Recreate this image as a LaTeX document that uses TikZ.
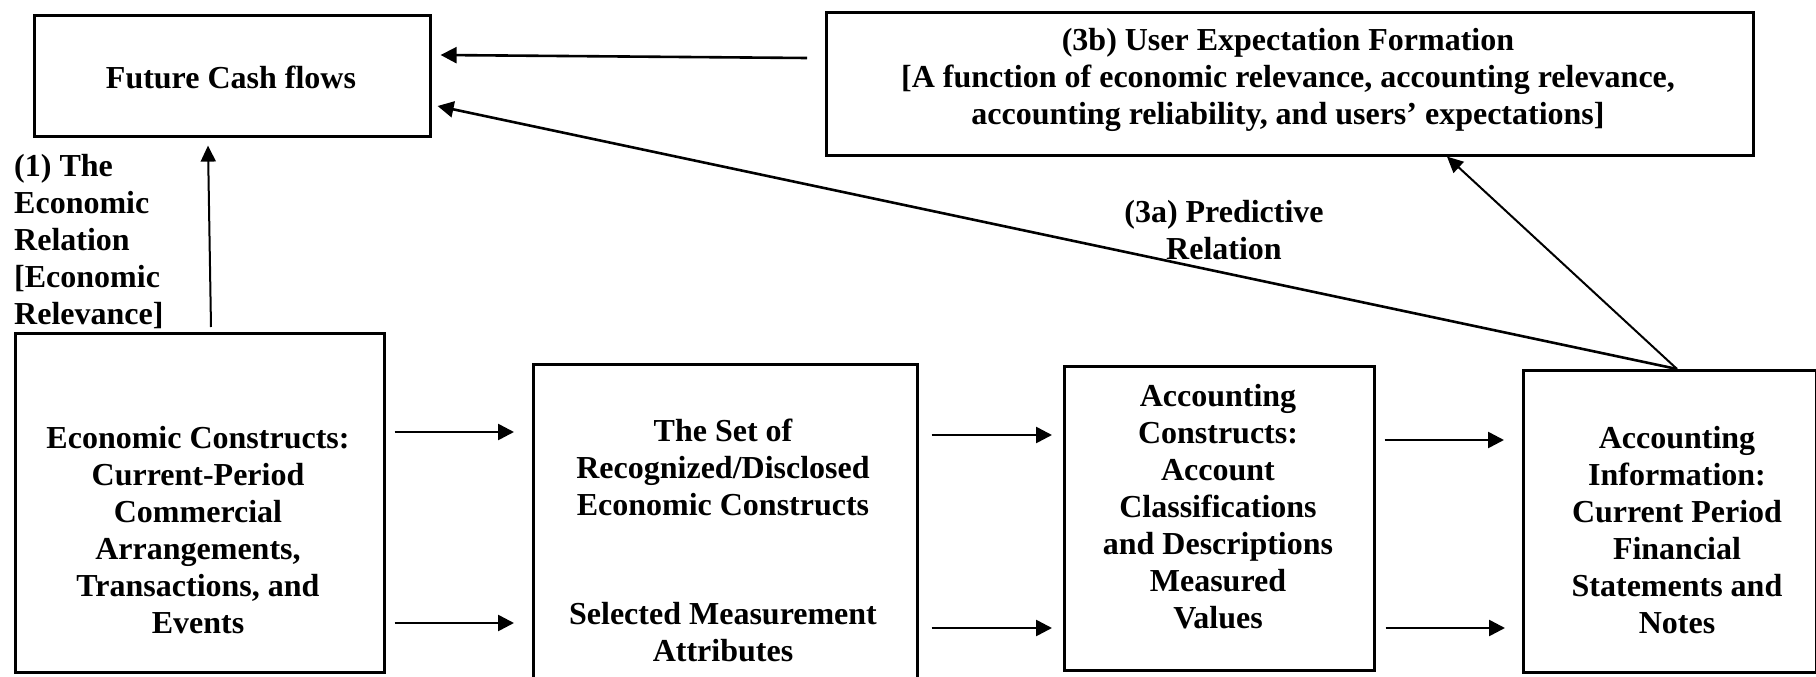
\documentclass[tikz,border=0pt]{standalone}
\usepackage{fontspec}
\setmainfont{Liberation Serif}
\usetikzlibrary{arrows.meta,calc}
\begin{document}
\begin{tikzpicture}[x=1pt,y=-1pt,
  box/.style={draw, line width=2.6pt, inner sep=0pt, anchor=north west},
  txt/.style={font=\bfseries\fontsize{32}{37}\selectfont, align=center, inner sep=0pt},
  lbl/.style={font=\bfseries\fontsize{32}{37}\selectfont, align=left, inner sep=0pt},
  arr/.style={-{Triangle[length=16pt,width=16pt]}, line width=2.6pt},
  thinarr/.style={-{Triangle[length=16pt,width=15pt]}, line width=2pt}]
\clip (0,0) rectangle (1816,677);
% boxes
\node[box, minimum width=396pt, minimum height=121pt] (fcf) at (33,14) {};
\node[box, minimum width=927pt, minimum height=143pt] (b3) at (825,11) {};
\node[box, minimum width=369pt, minimum height=339pt] (econ) at (14,332) {};
\node[box, minimum width=384pt, minimum height=320pt] (set) at (532,363) {};
\node[box, minimum width=310pt, minimum height=304pt] (ac) at (1063,365) {};
\node[box, minimum width=293pt, minimum height=302pt] (ai) at (1522,369) {};
% texts
\node[txt] (tfcf) at (231,77) {Future Cash flows};
\node[txt] (tb3) at (1288,80) {(3b) User Expectation Formation\\{[}A function of economic relevance, accounting relevance,\\accounting reliability, and users’ expectations{]}};
\node[txt] (tecon) at (198,530) {Economic Constructs:\\Current-Period\\Commercial\\Arrangements,\\Transactions, and\\Events};
\node[txt] (tset1) at (723,467) {The Set of\\Recognized/Disclosed\\Economic Constructs};
\node[txt] (tset2) at (723,632) {Selected Measurement\\Attributes};
\node[txt] (tac) at (1218,507) {Accounting\\Constructs:\\Account\\Classifications\\and Descriptions\\Measured\\Values};
\node[txt] (tai) at (1677,530) {Accounting\\Information:\\Current Period\\Financial\\Statements and\\Notes};
\node[lbl, anchor=west] (t1) at (14,242) {(1) The\\Economic\\Relation\\{[}Economic\\Relevance{]}};
\node[txt] (t3a) at (1224,230) {(3a) Predictive\\Relation};
% connectors
\coordinate (j) at ($(ai.north west)+(155,0)$);
\draw[arr] ($(b3.north west)+(-18,47)$) -- ($(fcf.north east)+(9,41)$);
\draw[arr] (j) -- ($(fcf.north east)+(6,92)$);
\draw[thinarr] (j) -- ($(b3.south west)+(622,0)$);
\draw[thinarr] ($(econ.north west)+(197,-5)$) -- ($(fcf.south west)+(175,8)$);
\draw[arr] ($(econ.north east)+(9,100)$) -- ($(set.north west)+(-18,69)$);
\draw[arr] ($(econ.north east)+(9,291)$) -- ($(set.north west)+(-18,260)$);
\draw[arr] ($(set.north east)+(13,72)$) -- ($(ac.north west)+(-11,70)$);
\draw[arr] ($(set.north east)+(13,265)$) -- ($(ac.north west)+(-11,263)$);
\draw[arr] ($(ac.north east)+(9,75)$) -- ($(ai.north west)+(-18,71)$);
\draw[arr] ($(ac.north east)+(10,263)$) -- ($(ai.north west)+(-17,259)$);
\end{tikzpicture}
\end{document}
